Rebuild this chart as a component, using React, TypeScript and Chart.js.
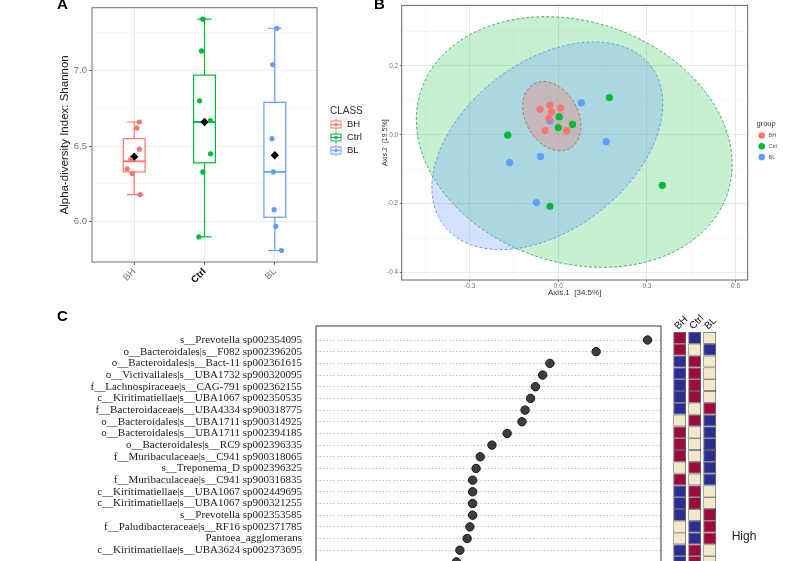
import { useEffect, useRef } from 'react';
import { Chart, registerables } from 'chart.js';

Chart.register(...registerables);

const SANS = "'Liberation Sans', Arial, Helvetica, sans-serif";
const SERIF = "'Liberation Serif', 'Times New Roman', serif";

// ---------------- Panel A data ----------------
const classNames = ['BH', 'Ctrl', 'BL'];
const boxLower = [6.18, 5.9, 5.81];
const boxQ1 = [6.33, 6.39, 6.03];
const boxMedian = [6.4, 6.66, 6.33];
const boxQ3 = [6.55, 6.97, 6.79];
const boxUpper = [6.66, 7.34, 7.28];
const classMean = [6.43, 6.66, 6.44];
const shannonBH = [6.66, 6.62, 6.48, 6.41, 6.35, 6.32, 6.18];
const shannonCtrl = [7.34, 7.13, 6.8, 6.67, 6.45, 6.33, 5.9];
const shannonBL = [7.28, 7.04, 6.55, 6.33, 6.08, 5.97, 5.81];
const jitterBH = [0.075, 0.038, 0.075, -0.05, -0.1, -0.028, 0.085];
const jitterCtrl = [-0.024, -0.043, -0.071, 0.085, 0.085, -0.024, -0.081];
const jitterBL = [0.03, -0.03, -0.04, -0.02, -0.01, 0.015, 0.095];
const shannonTicks = [5.75, 6.0, 6.25, 6.5, 6.75, 7.0, 7.25];

// ---------------- Panel B data ----------------
const pcoaBHx = [-0.062, -0.028, -0.023, 0.008, -0.032, -0.045, 0.028];
const pcoaBHy = [0.074, 0.086, 0.067, 0.078, 0.048, 0.0125, 0.012];
const pcoaCtrlx = [0.003, 0.0, 0.048, 0.173, -0.171, -0.028, 0.352];
const pcoaCtrly = [0.052, 0.021, 0.03, 0.108, -0.001, -0.208, -0.147];
const pcoaBLx = [-0.028, 0.078, 0.162, -0.06, -0.165, -0.074];
const pcoaBLy = [0.04, 0.093, -0.02, -0.063, -0.081, -0.197];
// ellipses: BH, Ctrl, BL
const ellipseCx = [-0.022, 0.054, -0.037];
const ellipseCy = [0.054, -0.021, -0.032];
const ellipseRx = [0.125, 0.547, 0.442];
const ellipseRy = [0.076, 0.35, 0.244];
const ellipseAngle = [60.5, 18.7, -37.6];
const axis1Ticks = [-0.45, -0.3, -0.15, 0, 0.15, 0.3, 0.45, 0.6];
const axis2Ticks = [-0.4, -0.3, -0.2, -0.1, 0, 0.1, 0.2, 0.3];

// ---------------- Panel C data ----------------
const featureNames = [
  's__Prevotella sp002354095',
  'o__Bacteroidales|s__F082 sp002396205',
  'o__Bacteroidales|s__Bact-11 sp002361615',
  'o__Victivallales|s__UBA1732 sp900320095',
  'f__Lachnospiraceae|s__CAG-791 sp002362155',
  'c__Kiritimatiellae|s__UBA1067 sp002350535',
  'f__Bacteroidaceae|s__UBA4334 sp900318775',
  'o__Bacteroidales|s__UBA1711 sp900314925',
  'o__Bacteroidales|s__UBA1711 sp002394185',
  'o__Bacteroidales|s__RC9 sp002396335',
  'f__Muribaculaceae|s__C941 sp900318065',
  's__Treponema_D sp002396325',
  'f__Muribaculaceae|s__C941 sp900316835',
  'c__Kiritimatiellae|s__UBA1067 sp002449695',
  'c__Kiritimatiellae|s__UBA1067 sp900321255',
  's__Prevotella sp002353585',
  'f__Paludibacteraceae|s__RF16 sp002371785',
  'Pantoea_agglomerans',
  'c__Kiritimatiellae|s__UBA3624 sp002373695',
  '',
];
const featureImportance = [9.61, 8.12, 6.78, 6.57, 6.36, 6.22, 6.06, 5.97, 5.54, 5.1, 4.76, 4.64, 4.54, 4.54, 4.54, 4.54, 4.46, 4.38, 4.17, 4.07];
const heatGroups = ['BH', 'Ctrl', 'BL'];
const heatBH = ['H', 'H', 'L', 'L', 'L', 'L', 'L', 'M', 'H', 'H', 'H', 'M', 'H', 'L', 'L', 'L', 'M', 'M', 'L', 'L'];
const heatCtrl = ['L', 'M', 'H', 'H', 'H', 'H', 'M', 'H', 'M', 'M', 'M', 'H', 'M', 'H', 'H', 'M', 'L', 'L', 'H', 'H'];
const heatBL = ['M', 'L', 'M', 'M', 'M', 'M', 'H', 'L', 'L', 'L', 'L', 'L', 'L', 'M', 'M', 'H', 'H', 'H', 'M', 'M'];

// ---------------- styles ----------------
const classColors = ['#F8766D', '#00BA38', '#619CFF'];
const ellipseFill = ['rgba(248,118,109,0.32)', 'rgba(0,186,56,0.22)', 'rgba(97,156,255,0.28)'];
const ellipseStroke = ['#9a6a66', '#2aa84a', '#5f8fe0'];
const ellipseOrder = [1, 2, 0];
const heatColor: Record<string, string> = { H: '#9B0B3C', M: '#F1E9C9', L: '#2C2F8F' };
const BOX_HALF = 0.155;
const CAP_HALF = 0.1;

const isMult = (v: number, step: number) => Math.abs(Math.round(v / step) * step - v) < 1e-6;

function framePlugin(color: string, width = 1) {
  return {
    id: 'frame',
    afterDatasetsDraw(chart: any) {
      const { ctx, chartArea: a } = chart;
      ctx.save();
      ctx.strokeStyle = color;
      ctx.lineWidth = width;
      ctx.strokeRect(a.left, a.top, a.right - a.left, a.bottom - a.top);
      ctx.restore();
    },
  };
}

function textPlugin(id: string, draw: (ctx: CanvasRenderingContext2D) => void) {
  return {
    id,
    afterDraw(chart: any) {
      const { ctx } = chart;
      ctx.save();
      draw(ctx);
      ctx.restore();
    },
  };
}

const boxPlugin = {
  id: 'boxes',
  beforeDatasetsDraw(chart: any) {
    const { ctx } = chart;
    const x = chart.scales.x;
    const y = chart.scales.y;
    ctx.save();
    classNames.forEach((_, i) => {
      const c = x.getPixelForValue(i + 1);
      const bl = x.getPixelForValue(i + 1 - BOX_HALF);
      const br = x.getPixelForValue(i + 1 + BOX_HALF);
      const cl = x.getPixelForValue(i + 1 - CAP_HALF);
      const cr = x.getPixelForValue(i + 1 + CAP_HALF);
      const yLo = y.getPixelForValue(boxLower[i]);
      const yQ1 = y.getPixelForValue(boxQ1[i]);
      const yMed = y.getPixelForValue(boxMedian[i]);
      const yQ3 = y.getPixelForValue(boxQ3[i]);
      const yHi = y.getPixelForValue(boxUpper[i]);
      ctx.strokeStyle = classColors[i];
      ctx.lineWidth = 1.2;
      ctx.beginPath();
      ctx.moveTo(c, yQ3); ctx.lineTo(c, yHi);
      ctx.moveTo(cl, yHi); ctx.lineTo(cr, yHi);
      ctx.moveTo(c, yQ1); ctx.lineTo(c, yLo);
      ctx.moveTo(cl, yLo); ctx.lineTo(cr, yLo);
      ctx.stroke();
      ctx.fillStyle = '#ffffff';
      ctx.fillRect(bl, yQ3, br - bl, yQ1 - yQ3);
      ctx.strokeRect(bl, yQ3, br - bl, yQ1 - yQ3);
      ctx.lineWidth = 1.8;
      ctx.beginPath();
      ctx.moveTo(bl, yMed); ctx.lineTo(br, yMed);
      ctx.stroke();
    });
    ctx.restore();
  },
};

const ellipsePlugin = {
  id: 'ellipses',
  beforeDatasetsDraw(chart: any) {
    const { ctx, chartArea: a } = chart;
    const x = chart.scales.x;
    const y = chart.scales.y;
    ctx.save();
    ctx.beginPath();
    ctx.rect(a.left, a.top, a.right - a.left, a.bottom - a.top);
    ctx.clip();
    ellipseOrder.forEach((i) => {
      const px = x.getPixelForValue(ellipseCx[i]);
      const py = y.getPixelForValue(ellipseCy[i]);
      const rx = Math.abs(x.getPixelForValue(ellipseCx[i] + ellipseRx[i]) - px);
      const ry = Math.abs(y.getPixelForValue(ellipseCy[i] + ellipseRy[i]) - py);
      ctx.beginPath();
      ctx.ellipse(px, py, rx, ry, (ellipseAngle[i] * Math.PI) / 180, 0, Math.PI * 2);
      ctx.fillStyle = ellipseFill[i];
      ctx.fill();
      ctx.setLineDash([3, 2]);
      ctx.lineWidth = 0.9;
      ctx.strokeStyle = ellipseStroke[i];
      ctx.stroke();
    });
    ctx.restore();
  },
};

const baseOptions = {
  responsive: true,
  maintainAspectRatio: false,
  animation: false as const,
  events: [] as any[],
};

function buildA(canvas: HTMLCanvasElement) {
  const pts = (vals: number[], jit: number[], i: number) => vals.map((v, k) => ({ x: i + 1 + jit[k], y: v }));
  const legendA = textPlugin('legendA', (ctx) => {
    ctx.fillStyle = '#000';
    ctx.font = `bold 15px ${SANS}`;
    ctx.textBaseline = 'alphabetic';
    ctx.fillText('A', 57, 9);
    ctx.textBaseline = 'middle';
    ctx.font = `10px ${SANS}`;
    ctx.fillStyle = '#333';
    ctx.fillText('CLASS', 330, 111);
    classNames.forEach((n, i) => {
      const cy = 124.5 + i * 13;
      const col = classColors[i];
      ctx.strokeStyle = col;
      ctx.lineWidth = 1;
      ctx.strokeRect(331, cy - 3.5, 10, 7);
      ctx.beginPath();
      ctx.moveTo(336, cy - 6); ctx.lineTo(336, cy - 3.5);
      ctx.moveTo(336, cy + 3.5); ctx.lineTo(336, cy + 6);
      ctx.moveTo(331, cy); ctx.lineTo(341, cy);
      ctx.stroke();
      ctx.fillStyle = col;
      ctx.beginPath();
      ctx.arc(336, cy, 1.8, 0, Math.PI * 2);
      ctx.fill();
      ctx.fillStyle = '#222';
      ctx.font = `9.5px ${SANS}`;
      ctx.fillText(n, 347, cy);
    });
  });
  return new Chart(canvas, {
    type: 'scatter',
    data: {
      datasets: [
        { label: 'BH', data: pts(shannonBH, jitterBH, 0), backgroundColor: classColors[0], borderWidth: 0, pointRadius: 2.6 },
        { label: 'Ctrl', data: pts(shannonCtrl, jitterCtrl, 1), backgroundColor: classColors[1], borderWidth: 0, pointRadius: 2.6 },
        { label: 'BL', data: pts(shannonBL, jitterBL, 2), backgroundColor: classColors[2], borderWidth: 0, pointRadius: 2.6 },
        {
          label: 'mean',
          data: classMean.map((m, i) => ({ x: i + 1, y: m })),
          pointStyle: 'rectRot',
          pointRadius: 4.2,
          backgroundColor: '#000',
          borderColor: '#000',
          borderWidth: 0,
        },
      ],
    },
    options: {
      ...baseOptions,
      layout: { padding: { left: 0, right: 53, top: 3, bottom: 0 } },
      plugins: { legend: { display: false }, tooltip: { enabled: false } },
      scales: {
        x: {
          type: 'linear',
          min: 0.4,
          max: 3.6,
          afterBuildTicks: (s: any) => { s.ticks = classNames.map((_, i) => ({ value: i + 1 })); },
          afterFit: (s: any) => { s.height = 38; },
          ticks: {
            autoSkip: false,
            minRotation: 45,
            maxRotation: 45,
            padding: 1,
            callback: (v: any) => classNames[Math.round(Number(v)) - 1] ?? '',
            color: (c: any) => (c.index === 1 ? '#000' : '#777'),
            font: (c: any) => ({ family: SANS, size: 9.5, weight: c.index === 1 ? 'bold' : 'normal' }),
          },
          grid: { color: '#EBEBEB', lineWidth: 1, tickColor: '#666', tickLength: 3 },
          border: { display: false },
        },
        y: {
          type: 'linear',
          min: 5.734,
          max: 7.416,
          afterBuildTicks: (s: any) => { s.ticks = shannonTicks.map((v) => ({ value: v })); },
          afterFit: (s: any) => { s.width = 92; },
          ticks: {
            autoSkip: false,
            padding: 2,
            color: '#777',
            font: { family: SANS, size: 9.5 },
            callback: (v: any) => (isMult(Number(v), 0.5) ? Number(v).toFixed(1) : ''),
          },
          grid: {
            color: (c: any) => (isMult(c.tick.value, 0.5) ? '#EBEBEB' : '#F3F3F3'),
            lineWidth: (c: any) => (isMult(c.tick.value, 0.5) ? 1 : 0.6),
            tickColor: (c: any) => (isMult(c.tick.value, 0.5) ? '#666' : 'rgba(0,0,0,0)'),
            tickLength: 3,
          },
          border: { display: false },
          title: {
            display: true,
            text: 'Alpha-diversity Index: Shannon',
            color: '#222',
            font: { family: SANS, size: 11.5 },
            padding: { top: 58, bottom: 0 },
          },
        },
      },
    } as any,
    plugins: [boxPlugin, framePlugin('#6e6e6e'), legendA],
  });
}

function buildB(canvas: HTMLCanvasElement) {
  const pts = (xs: number[], ys: number[]) => xs.map((v, k) => ({ x: v, y: ys[k] }));
  const legendB = textPlugin('legendB', (ctx) => {
    ctx.fillStyle = '#000';
    ctx.font = `bold 15px ${SANS}`;
    ctx.textBaseline = 'alphabetic';
    ctx.fillText('B', 4, 9);
    ctx.textBaseline = 'middle';
    ctx.fillStyle = '#333';
    ctx.font = `7.5px ${SANS}`;
    ctx.fillText('group', 386.5, 124);
    classNames.forEach((n, i) => {
      const cy = 135.5 + i * 10.8;
      ctx.fillStyle = classColors[i];
      ctx.beginPath();
      ctx.arc(391.7, cy, 3.3, 0, Math.PI * 2);
      ctx.fill();
      ctx.fillStyle = '#555';
      ctx.font = `5.5px ${SANS}`;
      ctx.fillText(n, 398.5, cy);
    });
  });
  const majorX = (v: number) => isMult(v, 0.3);
  const majorY = (v: number) => isMult(v, 0.2);
  return new Chart(canvas, {
    type: 'scatter',
    data: {
      datasets: [
        { label: 'BH', data: pts(pcoaBHx, pcoaBHy), backgroundColor: classColors[0], borderWidth: 0, pointRadius: 3.6 },
        { label: 'Ctrl', data: pts(pcoaCtrlx, pcoaCtrly), backgroundColor: classColors[1], borderWidth: 0, pointRadius: 3.6 },
        { label: 'BL', data: pts(pcoaBLx, pcoaBLy), backgroundColor: classColors[2], borderWidth: 0, pointRadius: 3.6 },
      ],
    },
    options: {
      ...baseOptions,
      layout: { padding: { left: 0, right: 51.3, top: 3.3, bottom: 0 } },
      plugins: { legend: { display: false }, tooltip: { enabled: false } },
      scales: {
        x: {
          type: 'linear',
          min: -0.53,
          max: 0.641,
          afterBuildTicks: (s: any) => { s.ticks = axis1Ticks.map((v) => ({ value: v })); },
          afterFit: (s: any) => { s.height = 20; },
          ticks: {
            autoSkip: false,
            maxRotation: 0,
            padding: 0,
            color: '#777',
            font: { family: SANS, size: 6.5 },
            callback: (v: any) => (majorX(Number(v)) ? Number(v).toFixed(1) : ''),
          },
          grid: {
            color: (c: any) => (majorX(c.tick.value) ? '#E8E8E8' : '#F3F3F3'),
            lineWidth: (c: any) => (majorX(c.tick.value) ? 1 : 0.6),
            tickColor: (c: any) => (majorX(c.tick.value) ? '#777' : 'rgba(0,0,0,0)'),
            tickLength: 2,
          },
          border: { display: false },
          title: {
            display: true,
            text: 'Axis.1  [34.5%]',
            color: '#333',
            font: { family: SANS, size: 8 },
            padding: { top: 0, bottom: 2.2 },
          },
        },
        y: {
          type: 'linear',
          min: -0.422,
          max: 0.376,
          afterBuildTicks: (s: any) => { s.ticks = axis2Ticks.map((v) => ({ value: v })); },
          afterFit: (s: any) => { s.width = 31.7; },
          ticks: {
            autoSkip: false,
            padding: 1.5,
            color: '#777',
            font: { family: SANS, size: 6.5 },
            callback: (v: any) => (majorY(Number(v)) ? Number(v).toFixed(1) : ''),
          },
          grid: {
            color: (c: any) => (majorY(c.tick.value) ? '#E8E8E8' : '#F3F3F3'),
            lineWidth: (c: any) => (majorY(c.tick.value) ? 1 : 0.6),
            tickColor: (c: any) => (majorY(c.tick.value) ? '#777' : 'rgba(0,0,0,0)'),
            tickLength: 2,
          },
          border: { display: false },
          title: {
            display: true,
            text: 'Axis.2  [19.5%]',
            color: '#333',
            font: { family: SANS, size: 7 },
            padding: { top: 10.8, bottom: 0 },
          },
        },
      },
    } as any,
    plugins: [ellipsePlugin, framePlugin('#666'), legendB],
  });
}

function buildC(canvas: HTMLCanvasElement) {
  const labelC = textPlugin('labelC', (ctx) => {
    ctx.fillStyle = '#000';
    ctx.font = `bold 15px ${SANS}`;
    ctx.textBaseline = 'alphabetic';
    ctx.fillText('C', 57, 21);
  });
  return new Chart(canvas, {
    type: 'scatter',
    data: {
      datasets: [
        {
          label: 'importance',
          data: featureImportance.map((v, i) => ({ x: v, y: i + 1 })),
          backgroundColor: '#3d3d3d',
          borderColor: '#151515',
          borderWidth: 1,
          pointRadius: 4.2,
        },
      ],
    },
    options: {
      ...baseOptions,
      layout: { padding: { left: 0, right: 9, top: 26, bottom: 18 } },
      plugins: { legend: { display: false }, tooltip: { enabled: false } },
      scales: {
        x: { type: 'linear', min: 0, max: 10, display: false },
        y: {
          type: 'linear',
          reverse: true,
          min: -0.2,
          max: 21.5,
          afterBuildTicks: (s: any) => { s.ticks = featureImportance.map((_, i) => ({ value: i + 1 })); },
          afterFit: (s: any) => { s.width = 316; },
          ticks: {
            autoSkip: false,
            padding: 14,
            color: '#222',
            font: { family: SERIF, size: 11 },
            callback: (v: any) => featureNames[Math.round(Number(v)) - 1] ?? '',
          },
          grid: { color: '#B5B5B5', lineWidth: 0.8, drawTicks: false },
          border: { display: false, dash: [1.5, 2] },
        },
      },
    } as any,
    plugins: [framePlugin('#3a3a3a'), labelC],
  });
}

function buildHeat(canvas: HTMLCanvasElement) {
  const high = textPlugin('high', (ctx) => {
    ctx.fillStyle = '#222';
    ctx.font = `12px ${SANS}`;
    ctx.textBaseline = 'middle';
    ctx.fillText('High', 91.7, 237);
  });
  return new Chart(canvas, {
    type: 'bar',
    data: {
      labels: heatGroups,
      datasets: featureImportance.map((_, r) => ({
        label: `row${r + 1}`,
        data: [1, 1, 1],
        backgroundColor: [heatColor[heatBH[r]], heatColor[heatCtrl[r]], heatColor[heatBL[r]]],
        borderColor: '#3a3a3a',
        borderWidth: 0.8,
        borderSkipped: false,
        categoryPercentage: 1,
        barPercentage: 0.85,
      })),
    },
    options: {
      ...baseOptions,
      layout: { padding: { left: 32.2, right: 81.8, top: 0, bottom: 32 } },
      plugins: { legend: { display: false }, tooltip: { enabled: false } },
      scales: {
        x: {
          type: 'category',
          position: 'top',
          stacked: true,
          afterFit: (s: any) => { s.height = 32; },
          grid: { display: false, drawTicks: false },
          border: { display: false },
          ticks: {
            autoSkip: false,
            minRotation: 45,
            maxRotation: 45,
            padding: 0,
            labelOffset: 5,
            color: '#111',
            font: { family: SANS, size: 10 },
          },
        },
        y: { type: 'linear', stacked: true, reverse: true, min: 0, max: 20, display: false },
      },
    } as any,
    plugins: [high],
  });
}

function Panel(props: { left: number; top: number; width: number; height: number; build: (c: HTMLCanvasElement) => Chart }) {
  const ref = useRef<HTMLCanvasElement>(null);
  const { left, top, width, height, build } = props;
  useEffect(() => {
    const chart = build(ref.current as HTMLCanvasElement);
    return () => chart.destroy();
  }, [build]);
  return (
    <div style={{ position: 'absolute', left, top, width, height }}>
      <canvas ref={ref} />
    </div>
  );
}

export default function App() {
  return (
    <div style={{ position: 'absolute', left: 0, top: 0, width: 799, height: 561, overflow: 'hidden', background: '#fff' }}>
      <Panel left={0} top={0} width={370} height={300} build={buildA} />
      <Panel left={370} top={0} width={429} height={300} build={buildB} />
      <Panel left={0} top={300} width={670} height={300} build={buildC} />
      <Panel left={640} top={300} width={159} height={300} build={buildHeat} />
    </div>
  );
}
